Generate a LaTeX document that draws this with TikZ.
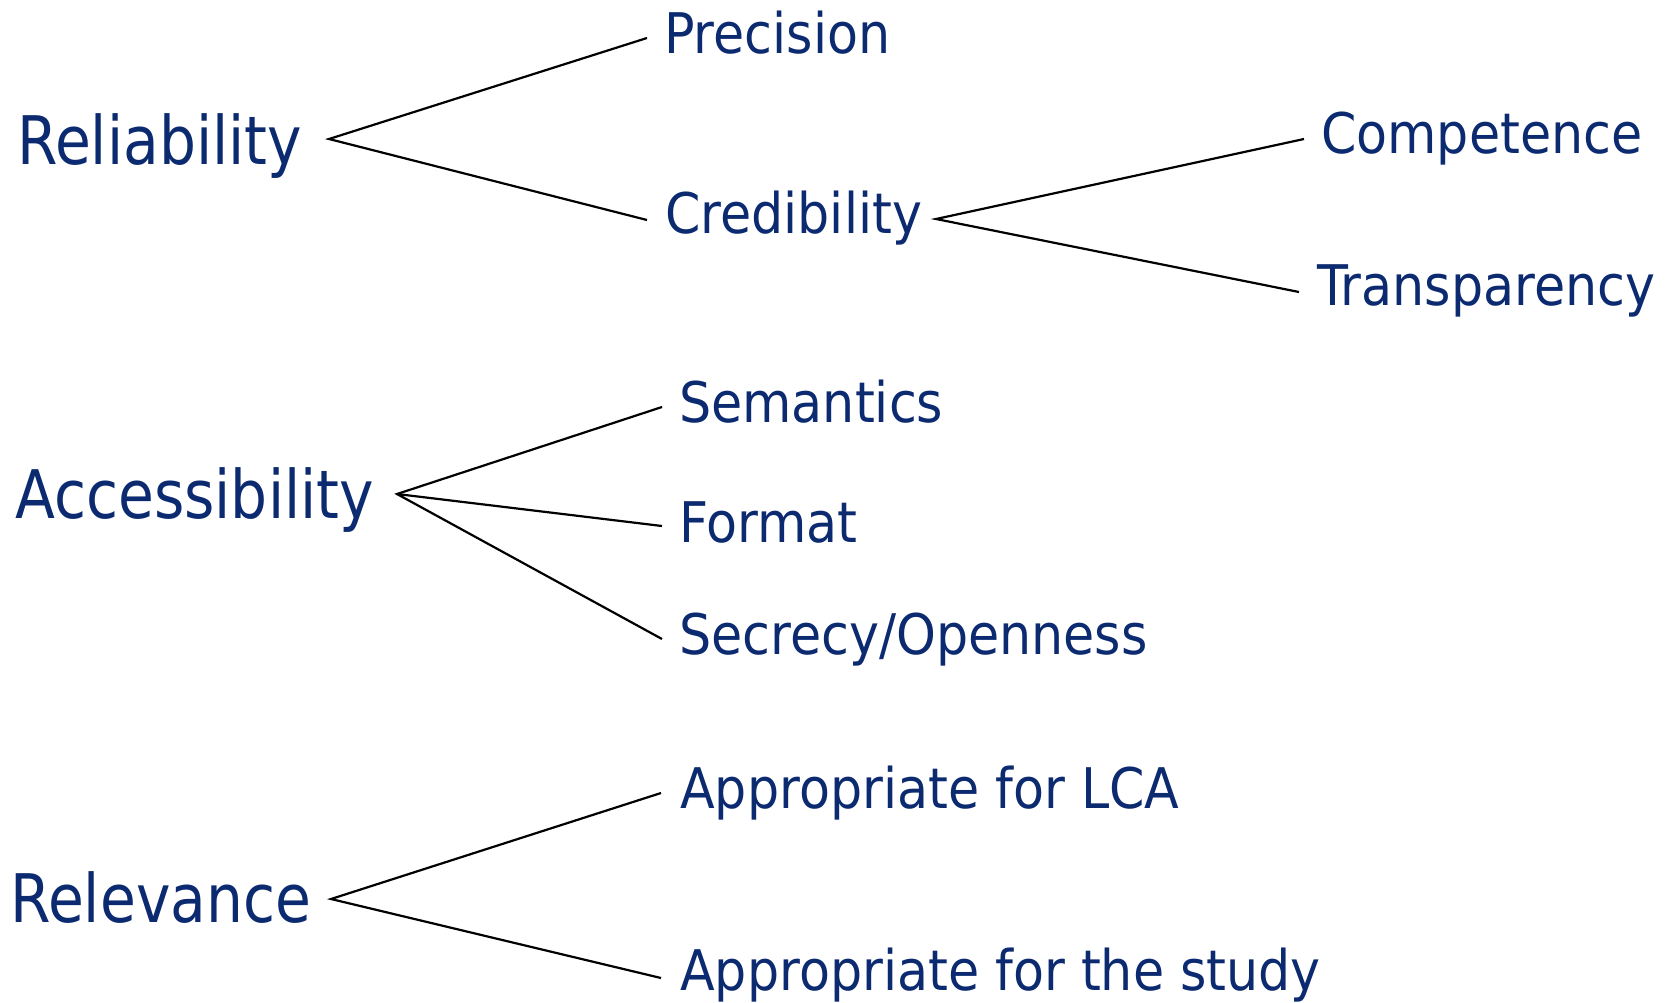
\documentclass[tikz,border=0pt]{standalone}
\usepackage{fontspec}
\setmainfont{DejaVu Sans}[FakeStretch=0.87]
\newfontfamily\narrowfam{DejaVu Sans}[FakeStretch=0.905]
\definecolor{navy}{RGB}{12,42,112}
\begin{document}
\begin{tikzpicture}[x=1pt,y=-1pt,
  big/.style={anchor=base west,inner sep=0pt,text=navy,font=\fontsize{67}{80}\selectfont},
  small/.style={anchor=base west,inner sep=0pt,text=navy,font=\narrowfam\fontsize{56}{67}\selectfont},
  link/.style={draw=black,line width=2.2pt}]
\useasboundingbox (0,0) rectangle (1675,1002);
% nodes
\node[big] (rel) at (17,164) {Reliability};
\node[small] (pre) at (664,53) {Precision};
\node[small] (cred) at (665,233) {Credibility};
\node[small] (comp) at (1321,153) {Competence};
\node[small] (trans) at (1317,305) {Transparency};
\node[big] (acc) at (15,518) {Accessibility};
\node[small] (sem) at (679,422) {Semantics};
\node[small] (form) at (679,542) {Format};
\node[small] (sec) at (679,654) {Secrecy/Openness};
\node[big] (relev) at (10,922) {Relevance};
\node[small] (lca) at (680,808) {Appropriate for LCA};
\node[small] (study) at (680,990) {Appropriate for the study};
% connector points
\coordinate (relA) at (329,139);
\coordinate (preE) at (647,38);
\coordinate (credE) at (647,220);
\coordinate (credA) at (936,219);
\coordinate (compE) at (1304,139);
\coordinate (transE) at (1299,292);
\coordinate (accA) at (397,494);
\coordinate (semE) at (662,407);
\coordinate (formE) at (662,526);
\coordinate (secE) at (662,639);
\coordinate (relevA) at (331,899);
\coordinate (lcaE) at (661,793);
\coordinate (studyE) at (661,978);
% connectors
\draw[link] (preE) -- (relA) -- (credE);
\draw[link] (compE) -- (credA) -- (transE);
\draw[link] (semE) -- (accA) -- (secE);
\draw[link] (accA) -- (formE);
\draw[link] (lcaE) -- (relevA) -- (studyE);
\end{tikzpicture}
\end{document}
